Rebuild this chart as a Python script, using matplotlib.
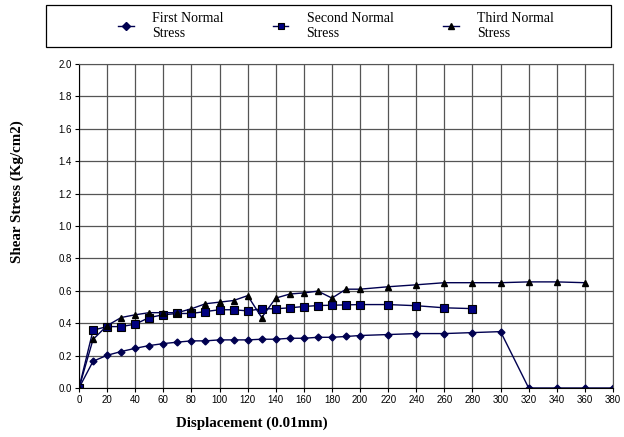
import matplotlib
matplotlib.use('Agg')
import matplotlib.pyplot as plt
from matplotlib.patches import Rectangle

x1 = [0, 10, 20, 30, 40, 50, 60, 70, 80, 90, 100, 110, 120, 130, 140, 150, 160, 170, 180, 190,
      200, 220, 240, 260, 280, 300, 320, 340, 360, 380]
first = [0, 0.165, 0.202, 0.225, 0.245, 0.262, 0.274, 0.283, 0.291, 0.291, 0.297, 0.297, 0.297,
         0.301, 0.301, 0.307, 0.307, 0.313, 0.313, 0.318, 0.324, 0.330, 0.336, 0.336, 0.342, 0.348,
         0, 0, 0, 0]

x2 = [0, 10, 20, 30, 40, 50, 60, 70, 80, 90, 100, 110, 120, 130, 140, 150, 160, 170, 180, 190,
      200, 220, 240, 260, 280]
second = [0, 0.357, 0.379, 0.379, 0.394, 0.435, 0.452, 0.460, 0.460, 0.472, 0.483, 0.483, 0.476,
          0.489, 0.489, 0.495, 0.503, 0.509, 0.511, 0.513, 0.515, 0.515, 0.508, 0.495, 0.490]

x3 = [0, 10, 20, 30, 40, 50, 60, 70, 80, 90, 100, 110, 120, 130, 140, 150, 160, 170, 180, 190,
      200, 220, 240, 260, 280, 300, 320, 340, 360]
third = [0, 0.300, 0.385, 0.435, 0.452, 0.465, 0.465, 0.465, 0.489, 0.520, 0.530, 0.540, 0.570,
         0.435, 0.555, 0.580, 0.587, 0.598, 0.555, 0.610, 0.610, 0.625, 0.637, 0.650, 0.650, 0.650,
         0.655, 0.655, 0.650]

labels = ['First Normal\nStress', 'Second Normal\nStress', 'Third Normal\nStress']

W, H = 624, 437
fig = plt.figure(figsize=(6.24, 4.37), dpi=100)
ax = fig.add_axes([79 / W, 1 - 388 / H, 534 / W, 324 / H])

navy = '#000050'
ax.plot(x1, first, color=navy, lw=1, marker='D', ms=3.5, mfc=navy, mec=navy, label=labels[0])
ax.plot(x2, second, color=navy, lw=1, marker='s', ms=5.5, mfc='#000080', mec='black', mew=0.8,
        label=labels[1])
ax.plot(x3, third, color=navy, lw=1, marker='^', ms=5, mfc='black', mec='black', label=labels[2])

ax.set_xlim(0, 380)
ax.set_ylim(0, 2.0)
ax.set_xticks(range(0, 381, 20))
ax.set_yticks([i * 0.2 for i in range(11)])
ax.set_yticklabels(['%.1f' % (i * 0.2) for i in range(11)])
ax.grid(True, color='#555555', lw=0.9)
ax.set_axisbelow(True)
for s in ax.spines.values():
    s.set_color('#555555')
ax.spines['left'].set_color('black')
ax.spines['bottom'].set_color('black')
ax.tick_params(axis='both', length=3, width=0.8, labelsize=7, pad=2)
for t in ax.get_xticklabels() + ax.get_yticklabels():
    t.set_family('Liberation Sans')

# axis titles sit off-centre, as in the original
fig.text(252 / W, 1 - 423 / H, 'Displacement (0.01mm)', family='Liberation Serif',
         fontweight='bold', fontsize=10.8, ha='center', va='center')
fig.text(17 / W, 1 - 192 / H, 'Shear Stress (Kg/cm2)', family='Liberation Serif',
         fontweight='bold', fontsize=10.8, ha='center', va='center', rotation=90)

# legend box
fig.patches.append(Rectangle((46 / W, 1 - 47 / H), 565 / W, 42.5 / H, transform=fig.transFigure,
                             fill=False, edgecolor='black', lw=0.9))
leg = fig.legend(loc='center', bbox_to_anchor=(336 / W, 1 - 26 / H), ncol=3,
                 prop={'family': 'Liberation Serif', 'size': 10}, frameon=False,
                 handlelength=1.1, handletextpad=1.3, columnspacing=3.6, borderpad=0)
for h in leg.legend_handles:
    h.set_markersize(4)

fig.savefig('out.png', dpi=100)
